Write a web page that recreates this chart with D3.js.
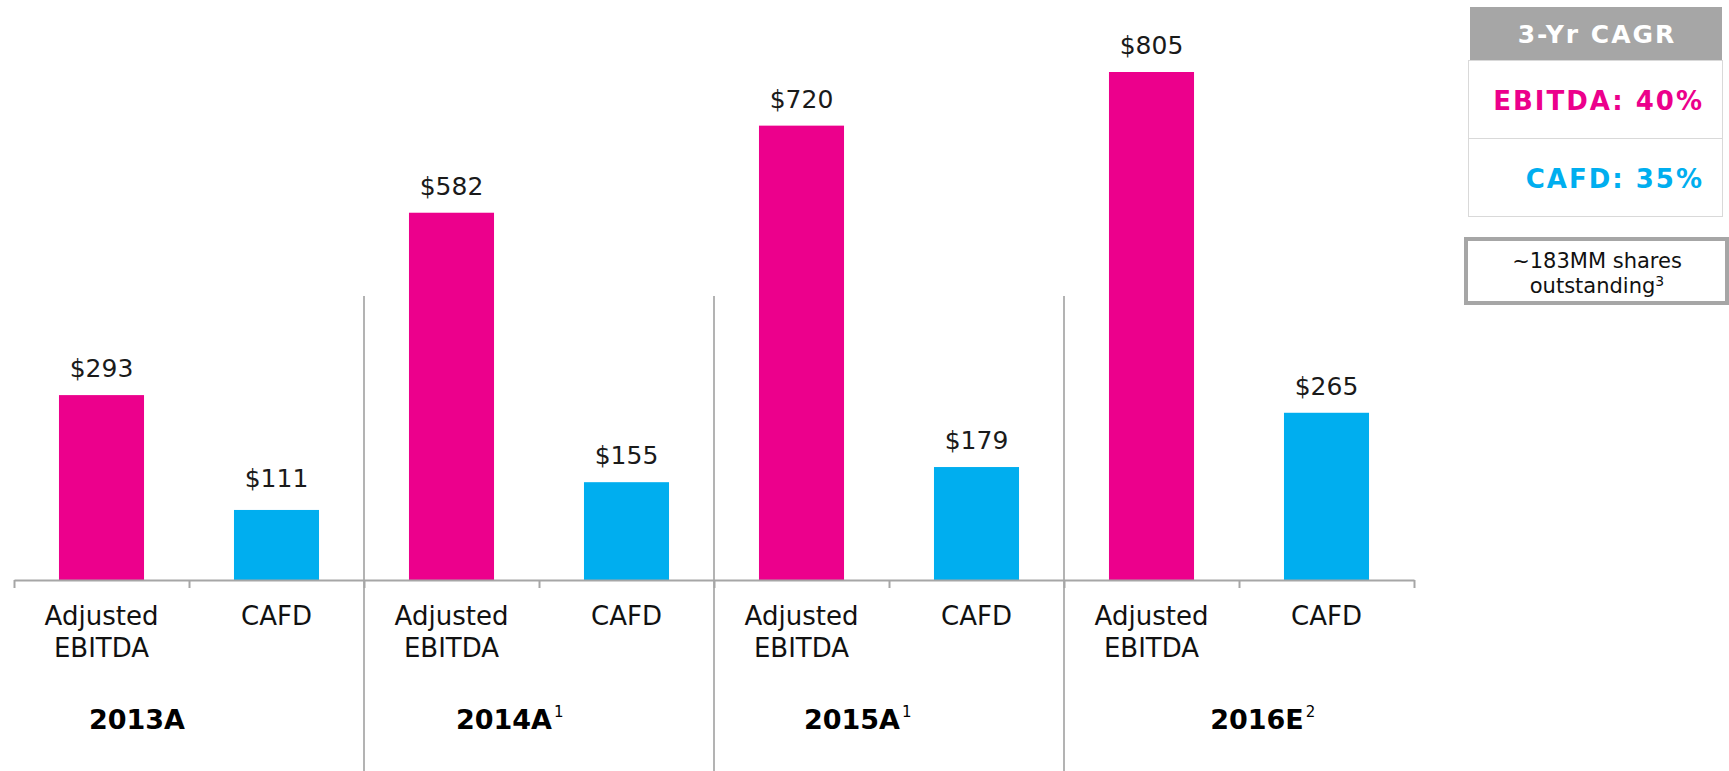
<!DOCTYPE html>
<html>
<head>
<meta charset="utf-8">
<script src="https://cdn.jsdelivr.net/npm/d3@7"></script>
<style>
  body { margin: 0; background: #fff; }
  text { font-family: "DejaVu Sans", sans-serif; }
</style>
</head>
<body>
<script>
const years = ['2013A', '2014A', '2015A', '2016E'];
const yearNotes = ['', '1', '1', '2'];
const metrics = ['Adjusted EBITDA', 'CAFD'];
const ebitda = [293, 582, 720, 805];
const cafd = [111, 155, 179, 265];
const cagrTitle = '3-Yr CAGR';
const cagrLabels = ['EBITDA: 40%', 'CAFD: 35%'];
const sharesNote = ['~183MM shares', 'outstanding'];
const sharesNoteSup = '3';

const width = 1729, height = 771;
const pink = '#ec008c', blue = '#00aeef', grey = '#a6a6a6';
// year labels sit a little off the group centre in the source slide
const yearShift = [-52, -35, -37, 18];

const rows = [];
years.forEach((yr, i) => {
  rows.push({ key: yr + '|' + metrics[0], year: yr, metric: metrics[0], value: ebitda[i], color: pink });
  rows.push({ key: yr + '|' + metrics[1], year: yr, metric: metrics[1], value: cafd[i], color: blue });
});

const svg = d3.select('body')
  .append('svg')
  .attr('width', width)
  .attr('height', height);

const x = d3.scaleBand()
  .domain(rows.map(d => d.key))
  .range([14, 1414])
  .paddingInner(0.514)
  .paddingOuter(0.257);

const y = d3.scaleLinear()
  .domain([0, 805])
  .range([580, 72]);

const edge = d3.scaleLinear().domain([0, rows.length]).range([14, 1414]);

// group separators
svg.selectAll('line.sep')
  .data(years.slice(1))
  .enter()
  .append('line')
  .attr('class', 'sep')
  .attr('x1', (d, i) => edge((i + 1) * 2))
  .attr('x2', (d, i) => edge((i + 1) * 2))
  .attr('y1', 296)
  .attr('y2', height)
  .attr('stroke', '#b3b3b3')
  .attr('stroke-width', 2);

// bars
svg.selectAll('rect.bar')
  .data(rows)
  .enter()
  .append('rect')
  .attr('class', 'bar')
  .attr('x', d => x(d.key))
  .attr('y', d => y(d.value))
  .attr('width', x.bandwidth())
  .attr('height', d => y(0) - y(d.value))
  .attr('fill', d => d.color);

// value labels
svg.selectAll('text.val')
  .data(rows)
  .enter()
  .append('text')
  .attr('class', 'val')
  .attr('x', d => x(d.key) + x.bandwidth() / 2)
  .attr('y', d => y(d.value) - (d.value < 150 ? 23 : 18))
  .attr('text-anchor', 'middle')
  .attr('font-size', 25)
  .attr('fill', '#1a1a1a')
  .text(d => '$' + d.value);

// category axis
const axis = svg.append('g')
  .attr('transform', 'translate(0,580)')
  .call(d3.axisBottom(edge).tickValues(d3.range(rows.length + 1)).tickSize(8).tickSizeOuter(0).tickFormat(''));
axis.selectAll('path, line').attr('stroke', grey).attr('stroke-width', 2);

// category labels
const cat = svg.selectAll('text.cat')
  .data(rows)
  .enter()
  .append('text')
  .attr('class', 'cat')
  .attr('text-anchor', 'middle')
  .attr('font-size', 26)
  .attr('fill', '#111');
cat.selectAll('tspan')
  .data(d => d.metric === 'CAFD' ? [[d, 'CAFD']] : [[d, 'Adjusted'], [d, 'EBITDA']])
  .enter()
  .append('tspan')
  .attr('x', d => x(d[0].key) + x.bandwidth() / 2)
  .attr('y', (d, i) => 625 + i * 32)
  .text(d => d[1]);

// year labels
years.forEach((yr, i) => {
  const cx = (edge(i * 2) + edge(i * 2 + 2)) / 2 + yearShift[i];
  const t = svg.append('text')
    .attr('x', cx)
    .attr('y', 729)
    .attr('text-anchor', 'middle')
    .attr('font-size', 27)
    .attr('font-weight', 'bold')
    .attr('fill', '#000')
    .text(yr);
  if (yearNotes[i]) {
    const w = t.node().getComputedTextLength();
    svg.append('text')
      .attr('x', cx + w / 2 + 2)
      .attr('y', 717)
      .attr('font-family', '"Liberation Sans Narrow", sans-serif')
      .attr('font-size', 15)
      .attr('fill', '#000')
      .text(yearNotes[i]);
  }
});

// CAGR box
svg.append('rect')
  .attr('x', 1468.5).attr('y', 60.5)
  .attr('width', 254).attr('height', 156)
  .attr('fill', '#fff').attr('stroke', '#d9d9d9');
svg.append('line')
  .attr('x1', 1468.5).attr('x2', 1722.5)
  .attr('y1', 138.5).attr('y2', 138.5)
  .attr('stroke', '#d9d9d9');
svg.append('rect')
  .attr('x', 1470).attr('y', 7)
  .attr('width', 252).attr('height', 53)
  .attr('fill', grey);
svg.append('text')
  .attr('x', 1597).attr('y', 43)
  .attr('text-anchor', 'middle')
  .attr('font-size', 25)
  .attr('font-weight', 'bold')
  .attr('letter-spacing', 2)
  .attr('fill', '#fff')
  .text(cagrTitle);
svg.selectAll('text.cagr')
  .data(cagrLabels)
  .enter()
  .append('text')
  .attr('class', 'cagr')
  .attr('x', 1704)
  .attr('y', (d, i) => 110 + i * 78)
  .attr('text-anchor', 'end')
  .attr('font-size', 26)
  .attr('font-weight', 'bold')
  .attr('letter-spacing', 2)
  .attr('fill', (d, i) => i === 0 ? pink : blue)
  .text(d => d);

// shares box
svg.append('rect')
  .attr('x', 1466).attr('y', 239)
  .attr('width', 261).attr('height', 64)
  .attr('fill', '#fff')
  .attr('stroke', grey)
  .attr('stroke-width', 4);
const note = svg.append('text')
  .attr('text-anchor', 'middle')
  .attr('font-size', 21)
  .attr('fill', '#111');
note.append('tspan').attr('x', 1597).attr('y', 268).text(sharesNote[0]);
const l2 = note.append('tspan').attr('x', 1597).attr('y', 293).text(sharesNote[1]);
l2.append('tspan')
  .attr('font-size', 14)
  .attr('dy', -7)
  .text(sharesNoteSup);
</script>
</body>
</html>
